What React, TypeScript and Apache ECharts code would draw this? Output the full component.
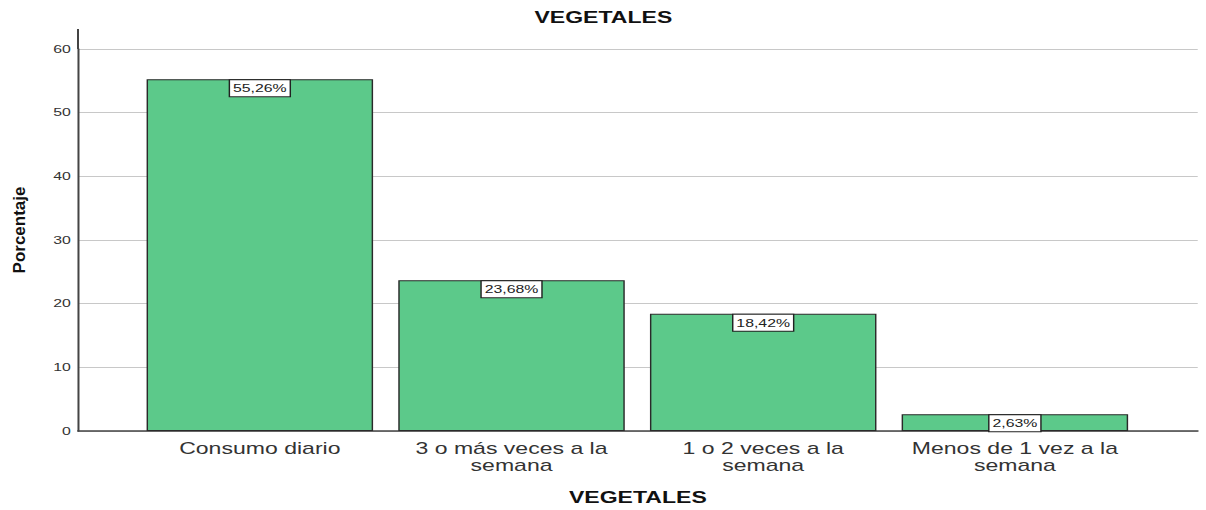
import React, { useEffect, useRef } from "react";
import * as echarts from "echarts";

const categories = [
  "Consumo diario",
  "3 o más veces a la\nsemana",
  "1 o 2 veces a la\nsemana",
  "Menos de 1 vez a la\nsemana",
];
const values = [55.26, 23.68, 18.42, 2.63];
const yTicks = [0, 10, 20, 30, 40, 50, 60];

// the reference chart is stretched horizontally; render narrower and stretch
const SX = 1.44;
const W = 1206;
const H = 510;
const IW = W / SX;

export default function App() {
  const ref = useRef<HTMLDivElement>(null);
  useEffect(() => {
    if (!ref.current) return;
    const chart = echarts.init(ref.current, null, { renderer: "svg" });
    const font = "Arial, 'Liberation Sans', sans-serif";
    const axisX = 78 / SX;
    chart.setOption({
      animation: false,
      backgroundColor: "#ffffff",
      title: {
        text: "VEGETALES",
        left: "center",
        top: 4,
        textStyle: { fontFamily: font, fontSize: 16, fontWeight: "bold", color: "#111" },
      },
      grid: [
        { left: axisX, right: IW - 1197 / SX, top: 49, bottom: 79, outerBoundsMode: "none", containLabel: false },
        { left: 134 / SX, right: IW - 1140 / SX, top: 30, bottom: 79, outerBoundsMode: "none", containLabel: false },
      ],
      xAxis: [
        {
          gridIndex: 0,
          type: "value",
          min: 0,
          max: 1,
          show: true,
          axisLine: { show: true, onZero: false, lineStyle: { color: "#444", width: 1.5 } },
          axisTick: { show: false },
          axisLabel: { show: false },
          splitLine: { show: false },
          name: "VEGETALES",
          nameLocation: "middle",
          nameGap: 58,
          nameTextStyle: { fontFamily: font, fontSize: 16, fontWeight: "bold", color: "#111" },
        },
        {
          gridIndex: 1,
          type: "category",
          data: categories,
          axisLine: { show: false },
          axisTick: { show: false },
          axisLabel: {
            interval: 0,
            fontFamily: font,
            fontSize: 16,
            color: "#333",
            lineHeight: 17,
            margin: 9,
          },
        },
      ],
      yAxis: [
        {
          gridIndex: 0,
          type: "value",
          min: 0,
          max: yTicks[yTicks.length - 1],
          interval: 10,
          axisLine: { show: true, lineStyle: { color: "#444", width: 1.4 } },
          axisTick: { show: false },
          axisLabel: { fontFamily: font, fontSize: 11, color: "#333", margin: 5 },
          splitLine: { show: true, lineStyle: { color: "#c8c8c8", width: 1 } },
        },
        {
          gridIndex: 1,
          type: "value",
          min: 0,
          max: 63,
          show: false,
          splitLine: { show: false },
        },
      ],
      graphic: [
        {
          type: "line",
          shape: { x1: axisX, y1: 29, x2: axisX, y2: 49 },
          style: { stroke: "#444", lineWidth: 1.4 },
          z: 10,
        },
        {
          type: "text",
          x: 20 / SX,
          y: 230,
          rotation: Math.PI / 2,
          scaleY: 1 / SX,
          style: {
            text: "Porcentaje",
            fontFamily: font,
            fontSize: 17,
            fontWeight: "bold",
            fill: "#111",
            textAlign: "center",
            textVerticalAlign: "middle",
          },
        },
      ],
      series: [
        {
          type: "bar",
          xAxisIndex: 1,
          yAxisIndex: 1,
          data: values,
          barWidth: "90%",
          itemStyle: { color: "#5cc98a", borderColor: "#2a2a2a", borderWidth: 1 },
          label: {
            show: true,
            position: "insideTop",
            distance: 1,
            formatter: (p: any) => p.value.toFixed(2).replace(".", ",") + "%",
            fontFamily: font,
            fontSize: 11,
            color: "#222",
            backgroundColor: "#ffffff",
            borderColor: "#222",
            borderWidth: 1,
            padding: [3, 2, 2, 2],
          },
        },
      ],
    });
    return () => chart.dispose();
  }, []);
  return (
    <div style={{ position: "fixed", left: 0, top: 0, width: W, height: H, overflow: "hidden", background: "#fff" }}>
      <div
        ref={ref}
        style={{ width: IW, height: H, transform: `scaleX(${SX})`, transformOrigin: "0 0" }}
      />
    </div>
  );
}
